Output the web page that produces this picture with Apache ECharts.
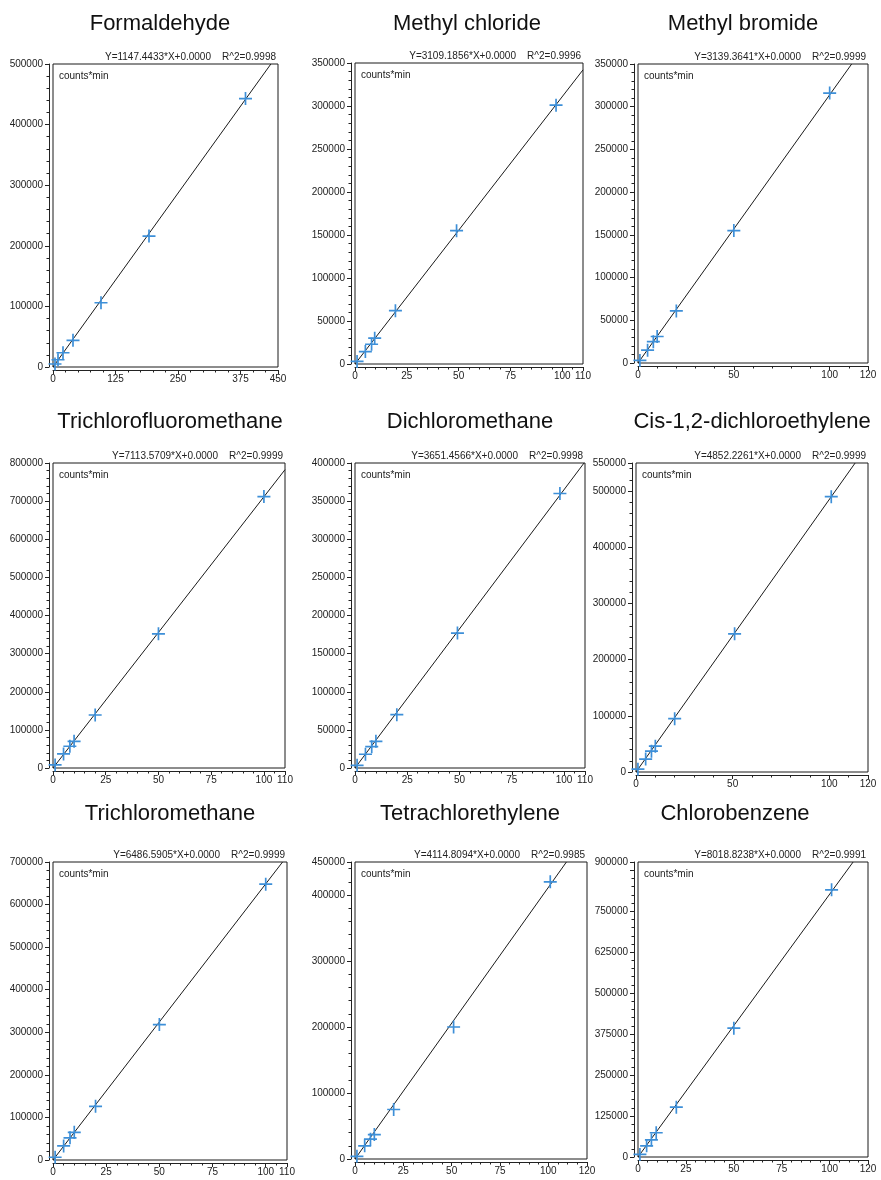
<!DOCTYPE html>
<html><head><meta charset="utf-8">
<script src="https://cdn.jsdelivr.net/npm/echarts@6/dist/echarts.min.js"></script>
<style>html,body{margin:0;padding:0;background:#fff}#c{width:881px;height:1180px}</style>
</head><body><div id="c"></div>
<script>
// ---------- data ----------
const compounds = ['Formaldehyde','Methyl chloride','Methyl bromide','Trichlorofluoromethane','Dichloromethane','Cis-1,2-dichloroethylene','Trichloromethane','Tetrachlorethylene','Chlorobenzene'];
const slopes = [1147.4433, 3109.1856, 3139.3641, 7113.5709, 3651.4566, 4852.2261, 6486.5905, 4114.8094, 8018.8238];
const intercepts = ['0.0000','0.0000','0.0000','0.0000','0.0000','0.0000','0.0000','0.0000','0.0000'];
const rSquared = ['0.9998','0.9996','0.9999','0.9999','0.9998','0.9999','0.9999','0.9985','0.9991'];
const xMax = [450, 110, 120, 110, 110, 120, 110, 120, 120];
const xStep = [125, 25, 50, 25, 25, 50, 25, 25, 25];
const yMax = [500000, 350000, 350000, 800000, 400000, 550000, 700000, 450000, 900000];
const yStep = [100000, 50000, 50000, 100000, 50000, 100000, 100000, 100000, 125000];
const hiddenYLabels = [875000];

const formaldehydeX = [4, 10, 20, 40, 96, 192, 385];
const formaldehydeY = [5000, 12000, 23500, 44000, 106000, 216000, 443000];
const methylChlorideX = [1, 5, 8, 9.5, 19.5, 49, 97];
const methylChlorideY = [3000, 14500, 23000, 30000, 62000, 155000, 301000];
const methylBromideX = [1, 5, 8, 10, 20, 50, 100];
const methylBromideY = [3000, 15000, 25000, 31000, 61000, 155000, 316000];
const trichlorofluoromethaneX = [1, 5, 8, 10, 20, 50, 100];
const trichlorofluoromethaneY = [8000, 37000, 57000, 70000, 139000, 352000, 712000];
const dichloromethaneX = [1, 5, 8, 10, 20, 49, 98];
const dichloromethaneY = [3500, 18000, 28000, 35000, 70000, 177000, 360000];
const cisDceX = [1, 5, 8, 10, 20, 51, 101];
const cisDceY = [5000, 23000, 37000, 46000, 95000, 246000, 490000];
const trichloromethaneX = [1, 5, 8, 10, 20, 50, 100];
const trichloromethaneY = [6500, 33000, 52000, 65000, 126000, 318000, 648000];
const tetrachlorethyleneX = [1, 5, 8, 10, 20, 51, 101];
const tetrachlorethyleneY = [4000, 20000, 30000, 37000, 75000, 200000, 420000];
const chlorobenzeneX = [1, 4.5, 7, 9.5, 20, 50, 101];
const chlorobenzeneY = [8000, 34000, 52000, 74000, 152000, 393000, 815000];

const pointsX = [formaldehydeX, methylChlorideX, methylBromideX, trichlorofluoromethaneX, dichloromethaneX, cisDceX, trichloromethaneX, tetrachlorethyleneX, chlorobenzeneX];
const pointsY = [formaldehydeY, methylChlorideY, methylBromideY, trichlorofluoromethaneY, dichloromethaneY, cisDceY, trichloromethaneY, tetrachlorethyleneY, chlorobenzeneY];

// ---------- layout (positions only) ----------
const boxes = [ // left, top, width, height
  [53, 64, 225, 303], [355, 63, 228, 301], [638, 64, 230, 299],
  [53, 463, 232, 305], [355, 463, 230, 305], [636, 463, 232, 309],
  [53, 862, 234, 298], [355, 862, 232, 297], [638, 862, 230, 295]
];
const titleCenters = [160, 467, 743, 170, 470, 752, 170, 470, 735];
const titleTops = [13, 411, 803];

const FONT = '"Liberation Sans", Arial, Helvetica, sans-serif';
const AX = '#222';
const BLUE = '#3d8fd8';
const PLUS = 'path://M4.35,0H5.65V4.35H10V5.65H5.65V10H4.35V5.65H0V4.35H4.35Z';

const grids = [], xAxes = [], yAxes = [], series = [], titles = [], graphics = [];
for (let i = 0; i < 9; i++) {
  const [l, t, w, h] = boxes[i];
  grids.push({left: l, top: t, width: w, height: h, show: true, borderColor: '#1a1a1a', borderWidth: 1,
    backgroundColor: 'transparent', containLabel: false, outerBoundsMode: 'none'});
  xAxes.push({
    gridIndex: i, type: 'value', min: 0, max: xMax[i], interval: xStep[i], offset: 3,
    axisLine: {show: true, onZero: false, lineStyle: {color: AX, width: 1}},
    axisTick: {show: true, inside: false, length: 4, lineStyle: {color: AX, width: 1}},
    minorTick: {show: true, splitNumber: 5, length: 2.5, lineStyle: {color: AX, width: 1}},
    axisLabel: {show: true, fontSize: 10, fontFamily: FONT, color: '#222', margin: 4, hideOverlap: false,
      showMinLabel: true, showMaxLabel: true},
    splitLine: {show: false}, minorSplitLine: {show: false}
  });
  yAxes.push({
    gridIndex: i, type: 'value', min: 0, max: yMax[i], interval: yStep[i], offset: 4,
    axisLine: {show: true, onZero: false, lineStyle: {color: AX, width: 1}},
    axisTick: {show: true, inside: false, length: 4, lineStyle: {color: AX, width: 1}},
    minorTick: {show: true, splitNumber: 5, length: 2.5, lineStyle: {color: AX, width: 1}},
    axisLabel: {show: true, fontSize: 10, fontFamily: FONT, color: '#222', margin: 6, hideOverlap: false,
      showMinLabel: true, showMaxLabel: true,
      formatter: v => hiddenYLabels.includes(v) ? '' : String(v)},
    splitLine: {show: false}, minorSplitLine: {show: false}
  });
  const xEnd = Math.min(xMax[i], yMax[i] / slopes[i]);
  series.push({
    type: 'line', xAxisIndex: i, yAxisIndex: i, data: [[0, 0], [xEnd, slopes[i] * xEnd]],
    symbol: 'none', showSymbol: false, silent: true, z: 2,
    lineStyle: {color: '#1a1a1a', width: 1}
  });
  series.push({
    type: 'scatter', xAxisIndex: i, yAxisIndex: i,
    data: pointsX[i].map((x, k) => [x, pointsY[i][k]]),
    symbol: PLUS, symbolSize: 13, z: 3,
    itemStyle: {color: BLUE, opacity: 1}
  });
  titles.push({
    text: compounds[i], left: titleCenters[i], top: titleTops[Math.floor(i / 3)], textAlign: 'center',
    padding: 0,
    textStyle: {fontSize: 22, fontWeight: 'normal', color: '#111', fontFamily: FONT}
  });
  graphics.push({
    type: 'text', x: l + w - 2, y: t - 7,
    style: {text: 'Y=' + slopes[i].toFixed(4) + '*X+' + intercepts[i] + '    R^2=' + rSquared[i],
      font: '10px ' + FONT, fill: '#222', textAlign: 'right', textVerticalAlign: 'middle', align: 'right', verticalAlign: 'middle'}
  });
  graphics.push({
    type: 'text', x: l + 6, y: t + 12,
    style: {text: 'counts*min', font: '10px ' + FONT, fill: '#222', textAlign: 'left', textVerticalAlign: 'middle', align: 'left', verticalAlign: 'middle'}
  });
}

const chart = echarts.init(document.getElementById('c'), null, {renderer: 'canvas'});
chart.setOption({
  animation: false,
  backgroundColor: '#fff',
  title: titles,
  grid: grids,
  xAxis: xAxes,
  yAxis: yAxes,
  series: series,
  graphic: graphics
});
</script>
</body></html>
